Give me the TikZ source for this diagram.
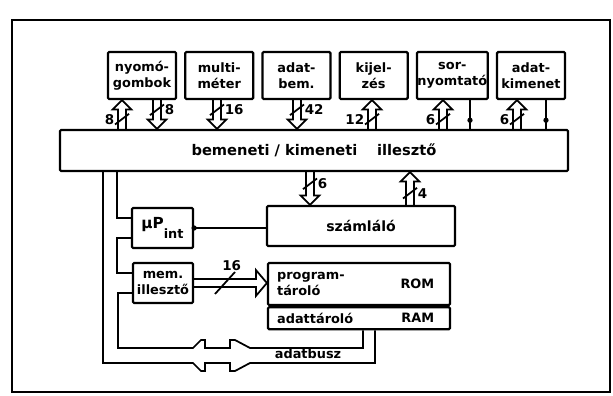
\documentclass[tikz,border=0pt]{standalone}
\usepackage{fontspec}
\setmainfont{DejaVu Sans}
\usetikzlibrary{arrows.meta, calc, positioning}
\newcommand{\boxfont}{\bfseries\fontsize{11}{13.5}\selectfont}
\newcommand{\bitfont}{\bfseries\fontsize{11.5}{12}\selectfont}
\newcommand{\shaftw}{1.2mm}
\newcommand{\headw}{2.8mm}
\newcommand{\headl}{2.8mm}
\newcommand{\slashw}{2.1mm}
\newcommand{\slashh}{1.6mm}

% hollow bus arrow: from, tip, bit count, label side, label name
\newcommand{\widebus}[5]{%
  \draw[wire] let \p1=(#1), \p2=(#2), \p3=($(\p2)!\headl!(\p1)$), \p4=($(\p1)!.5!(\p3)$) in
    (\x1-\shaftw,\y1) -- (\x1-\shaftw,\y3) -- (\x1-\headw,\y3) -- (\p2)
    -- (\x1+\headw,\y3) -- (\x1+\shaftw,\y3) -- (\x1+\shaftw,\y1)
    (\x4-\slashw,\y4-\slashh) -- (\x4+\slashw,\y4+\slashh)
    (\p4) node[#4=1.9mm, bits] (#5) {#3};
}

\begin{document}
\begin{tikzpicture}[x=0.3mm, y=-0.3mm, node distance=2.1mm,
  box/.style={draw, line width=1.9pt, rounded corners=1pt, align=center, font=\boxfont, inner sep=0.5pt},
  unit/.style={box, minimum width=20.4mm, minimum height=14.1mm},
  wire/.style={line width=1.5pt},
  bits/.style={font=\bitfont, inner sep=0.5pt},
  dotmark/.style={circle, fill, inner sep=0pt, minimum size=4.5pt},
  txt/.style={font=\boxfont, align=left, inner sep=0pt}]
  \useasboundingbox (0,0) rectangle (613,396);
  \draw[line width=0.9pt] (12,20) rectangle (610,392);

  % peripherals
  \node[unit] (keys) at (142,75.5) {nyomó-\\gombok};
  \node[unit, right=of keys] (meter) {multi-\\méter};
  \node[unit, right=of meter] (datain) {adat-\\bem.};
  \node[unit, right=of datain] (display) {kijel-\\zés};
  \node[unit, right=of display] (printer) {sor-\\nyomtató};
  \node[unit, right=of printer] (dataout) {adat-\\kimenet};

  \node[box, minimum width=152.4mm, minimum height=12.3mm, font=\bfseries\fontsize{12.5}{14}\selectfont]
    (iobus) at (314,150.5) {bemeneti / kimeneti \quad illesztő};

  \node[box, minimum width=18.3mm, minimum height=12mm, font=\bfseries\fontsize{13}{14}\selectfont]
    (cpu) at (162.5,228) {µP\raisebox{-1.2ex}{\fontsize{11}{12}\selectfont int}};
  \node[box, minimum width=56.4mm, minimum height=12mm, font=\bfseries\fontsize{12}{14}\selectfont]
    (counter) at (361,226) {számláló};
  \node[box, minimum width=18mm, minimum height=12mm] (memif) at (163,283) {mem.\\illesztő};
  \node[box, minimum width=54.6mm, minimum height=12.6mm] (rom) at (359,284) {};
  \node[box, minimum width=54.6mm, minimum height=6.6mm, below=0pt of rom] (ram) {};
  \node[txt, anchor=west] (romname) at ([xshift=3mm]rom.west) {program-\\tároló};
  \node[txt, anchor=east] (romtype) at ([xshift=-5mm]rom.east) {ROM};
  \node[txt, anchor=west] (ramname) at ([xshift=3mm]ram.west) {adattároló};
  \node[txt, anchor=east] (ramtype) at ([xshift=-5mm]ram.east) {RAM};

  % buses to the peripherals
  \widebus{iobus.north -| 122,0}{keys.south -| 122,0}{8}{left}{bk1}
  \widebus{keys.south -| 157,0}{iobus.north -| 157,0}{8}{right}{bk2}
  \widebus{meter.south -| 217,0}{iobus.north -| 217,0}{16}{right}{bm}
  \widebus{datain.south -| 297,0}{iobus.north -| 297,0}{42}{right}{bd}
  \widebus{iobus.north -| 372,0}{display.south -| 372,0}{12}{left}{bj}
  \widebus{iobus.north -| 443,0}{printer.south -| 443,0}{6}{left}{bp}
  \widebus{iobus.north -| 517,0}{dataout.south -| 517,0}{6}{left}{bo}
  \draw[wire] (printer.south -| 470,0) -- (iobus.north -| 470,0) node[pos=0.7, dotmark] (pdot) {};
  \draw[wire] (dataout.south -| 546,0) -- (iobus.north -| 546,0) node[pos=0.7, dotmark] (odot) {};

  % counter
  \widebus{iobus.south -| 310,0}{counter.north -| 310,0}{6}{right}{bc6}
  \widebus{counter.north -| 410,0}{iobus.south -| 410,0}{4}{right}{bc4}
  \draw[wire] (counter.west |- cpu.east) -- (cpu.east) node[dotmark] (intdot) {};

  % processor side
  \draw[wire] (iobus.south -| 117,0) |- ([yshift=3mm]cpu.west);
  \draw[wire] ([yshift=-3mm]cpu.west) -- ++(-14,0) |- ([yshift=3mm]memif.west);
  \draw[wire] let \p1=(memif.east), \p2=(rom.west |- memif.east), \p3=($(\p2)!3.3mm!(\p1)$),
      \p4=($(\p1)!.5!(\p3)$) in
    (\x1,\y1+\shaftw) -- (\x3,\y1+\shaftw) -- (\x3,\y1+3.9mm) -- (\p2)
    -- (\x3,\y1-3.9mm) -- (\x3,\y1-\shaftw) -- (\x1,\y1-\shaftw)
    (\x4-3mm,\y4-3.3mm) -- (\x4+3mm,\y4+3.3mm) node[above, bits, xshift=-1mm] (bw) {16};

  % data bus
  \draw[wire] ([yshift=-3mm]memif.west) -| (118,348) -- (193,348) -- (201,340) -- (205,340)
    -- (205,348) -- (230,348) -- (230,340) -- (235,340) -- (250,348) -| (ram.south -| 363,0);
  \draw[wire] (iobus.south -| 103,0) |- (193,363) -- (201,371) -- (205,371) -- (205,363)
    -- (230,363) -- (230,371) -- (235,371) -- (250,363) -| (ram.south -| 375,0);
  \node[txt] (busname) at (308,354) {adatbusz};
\end{tikzpicture}
\end{document}
